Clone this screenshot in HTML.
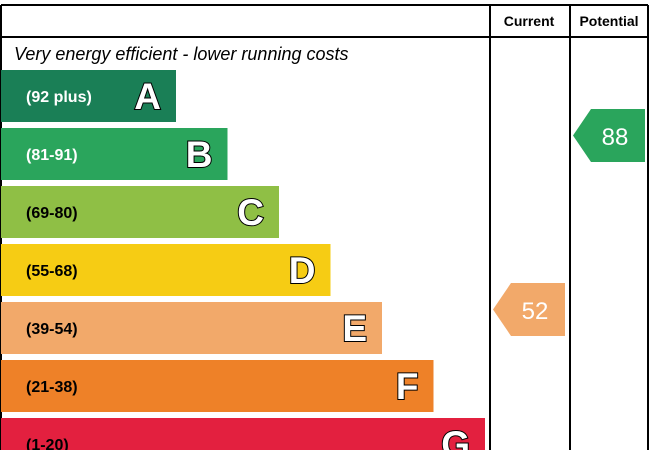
<!DOCTYPE html>
<html><head><meta charset="utf-8"><style>
html,body{margin:0;padding:0;background:#fff;}
svg{display:block;font-family:"Liberation Sans",Arial,sans-serif;}
</style></head><body>
<svg id="chart" width="650" height="450" viewBox="0 0 650 450">
  <g stroke="#000" stroke-width="2" fill="none">
    <line x1="1" y1="5" x2="648" y2="5"/>
    <line x1="1" y1="37" x2="648" y2="37"/>
    <line x1="1" y1="5" x2="1" y2="450"/>
    <line x1="490" y1="5" x2="490" y2="450"/>
    <line x1="570" y1="5" x2="570" y2="450"/>
    <line x1="648" y1="5" x2="648" y2="450"/>
  </g>
  <text x="529" y="26" text-anchor="middle" font-size="14" font-weight="bold">Current</text>
  <text x="609" y="26" text-anchor="middle" font-size="14" font-weight="bold">Potential</text>
  <text x="14" y="60" font-size="18" font-style="italic">Very energy efficient - lower running costs</text>
  <g id="bands"></g>
  <g id="arrows"></g>
</svg>
<script>
const letters = ["A","B","C","D","E","F","G"];
const ranges = ["(92 plus)","(81-91)","(69-80)","(55-68)","(39-54)","(21-38)","(1-20)"];
const bandMins = [92,81,69,55,39,21,1];
const colors = ["#1a7f56","#2aa55c","#8fbf45","#f6cc14","#f2a96a","#ee8128","#e3203f"];
const textColors = ["#fff","#fff","#000","#000","#000","#000","#000"];
const currentRating = 52;
const potentialRating = 88;

const NS = "http://www.w3.org/2000/svg";
const bandTop = i => 70 + i * 58;
const bandH = 52;
const bandW = i => 175 + i * 51.5;
function mk(tag, attrs, parent){const e=document.createElementNS(NS,tag);for(const k in attrs)e.setAttribute(k,attrs[k]);parent.appendChild(e);return e;}
const bg = document.getElementById("bands");
letters.forEach((L,i)=>{
  const y = bandTop(i), w = bandW(i);
  const r = mk("rect",{x:1,y:y,width:w,height:bandH,fill:colors[i]},bg);
  
  
  const t = mk("text",{x:26,y:y+32,"font-size":16,"font-weight":"bold",fill:textColors[i]},bg);
  t.textContent = ranges[i];
  
  
  const lt = mk("text",{x:w-14,y:y+39,"font-size":37,"font-weight":"bold",fill:"#fff",stroke:"#000","stroke-width":2,"paint-order":"stroke","text-anchor":"end"},bg);
  lt.textContent = L;
  
  
});
function bandIndex(v){for(let i=0;i<bandMins.length;i++){if(v>=bandMins[i])return i;}return bandMins.length-1;}
const ag = document.getElementById("arrows");
function arrow(v, x0, name){
  const i = bandIndex(v);
  const y = bandTop(i) - 3 + (i===0?0:0);
  const top = bandTop(i) - 11 + 0;
  const t0 = bandTop(i) - 11 + 0;
  const yy = bandTop(i) - 11 + 0;
  const y1 = bandTop(i) - 11;
  const ya = bandTop(i) - 11;
  const Y = bandTop(i) - 11 + 0;
  const h = 53;
  const tp = bandTop(i) - 19 + 8;
  const Ytop = bandTop(i) - 19 + 8;
  const Yt = bandTop(i) - 19;
  const y0 = Yt;
  const p = mk("polygon",{points:`${x0},${y0+h/2} ${x0+18},${y0} ${x0+72},${y0} ${x0+72},${y0+h} ${x0+18},${y0+h}`,fill:colors[i]},ag);
  
  
  const t = mk("text",{x:x0+42,y:y0+36,"font-size":24,fill:"#fff","text-anchor":"middle"},ag);
  t.textContent = v;
  
  
}
arrow(currentRating, 493, "current");
arrow(potentialRating, 573, "potential");
</script>
</body></html>
